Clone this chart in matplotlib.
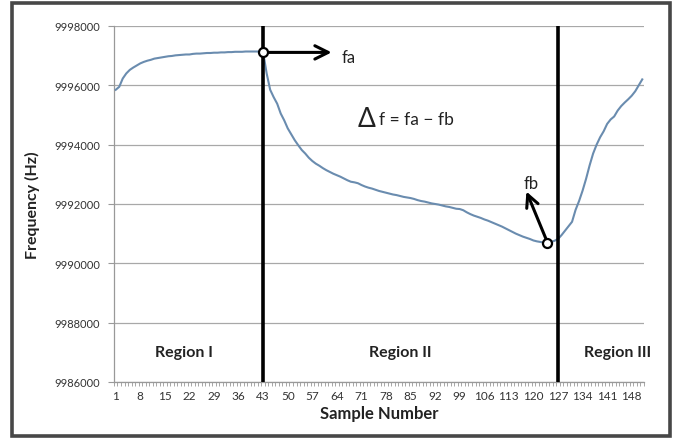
import matplotlib
matplotlib.use('Agg')
import matplotlib.pyplot as plt
from matplotlib.patches import Rectangle
from matplotlib.ticker import FixedLocator

plt.rcParams['font.family'] = ['Lato', 'DejaVu Sans']

# frequency readings, one per sample (Hz)
region1 = [9995850, 9995950, 9996230, 9996400, 9996520, 9996600, 9996670, 9996740,
           9996790, 9996830, 9996860, 9996900, 9996920, 9996940, 9996960, 9996980,
           9996990, 9997010, 9997020, 9997030, 9997040, 9997040, 9997060, 9997070,
           9997070, 9997080, 9997090, 9997090, 9997100, 9997100, 9997110, 9997110,
           9997120, 9997120, 9997130, 9997130, 9997130, 9997140, 9997140, 9997140,
           9997140, 9997140, 9997110]
region2 = [9996400, 9995850, 9995600, 9995380, 9995050, 9994820, 9994550, 9994350,
           9994150, 9993980, 9993820, 9993700, 9993560, 9993450, 9993360, 9993290,
           9993210, 9993140, 9993080, 9993020, 9992970, 9992920, 9992860, 9992800,
           9992750, 9992730, 9992700, 9992640, 9992590, 9992550, 9992520, 9992480,
           9992440, 9992410, 9992380, 9992350, 9992320, 9992300, 9992270, 9992240,
           9992220, 9992200, 9992170, 9992130, 9992100, 9992080, 9992050, 9992020,
           9992000, 9991980, 9991950, 9991920, 9991900, 9991870, 9991840, 9991830,
           9991790, 9991720, 9991660, 9991610, 9991570, 9991530, 9991480, 9991440,
           9991390, 9991340, 9991290, 9991240, 9991180, 9991120, 9991060, 9991000,
           9990950, 9990900, 9990860, 9990820, 9990770, 9990740, 9990720, 9990700,
           9990700, 9990720, 9990760]
region3 = [9990820, 9990950, 9991100, 9991250, 9991400, 9991800, 9992100, 9992450,
           9992850, 9993300, 9993700, 9994000, 9994250, 9994450, 9994700, 9994850,
           9994950, 9995150, 9995300, 9995420, 9995530, 9995650, 9995800, 9996000,
           9996200]

freq = region1 + region2 + region3
samples = list(range(1, len(freq) + 1))

region_names = ['Region I', 'Region II', 'Region III']
boundaries = [43, 127]
fa_sample = 43
fb_sample = 124

xtick_labels = list(range(1, 149, 7))
ytick_values = list(range(9986000, 9998001, 2000))

fig = plt.figure(figsize=(6.74, 4.39), dpi=100)
fig.patches.append(Rectangle((0.018, 0.005), 0.976, 0.986, transform=fig.transFigure,
                             fill=False, edgecolor='#474747', linewidth=2.6))
ax = fig.add_axes([0.1691, 0.1276, 0.7864, 0.8109])

ax.plot(samples, freq, color='#6a8caf', linewidth=1.5, zorder=3)

for b in boundaries:
    ax.axvline(b, color='black', linewidth=2.6, zorder=4)

fa = freq[fa_sample - 1]
fb = freq[fb_sample - 1]
ax.annotate('', xy=(62.5, fa), xytext=(fa_sample, fa),
            arrowprops=dict(arrowstyle='->', color='black', lw=2.2,
                            mutation_scale=24, shrinkA=0, shrinkB=0), zorder=5)
ax.annotate('', xy=(118.0, 9992420), xytext=(fb_sample, fb),
            arrowprops=dict(arrowstyle='->', color='black', lw=2.2,
                            mutation_scale=22, shrinkA=0, shrinkB=0), zorder=5)
ax.plot([fa_sample, fb_sample], [fa, fb], linestyle='none', marker='o', markersize=6.5,
        markerfacecolor='white', markeredgecolor='black', markeredgewidth=1.6, zorder=6)

ax.text(65.3, fa - 170, 'fa', fontsize=12, color='#222222', va='center')
ax.text(117.3, 9992700, 'fb', fontsize=12, color='#222222', va='center')
ax.text(69.8, 9994880, '\u0394', fontsize=19, color='#222222', va='center')
ax.text(76.0, 9994850, 'f = fa \u2212 fb', fontsize=12.5, color='#222222', va='center')

region_x = [20.5, 82, 144]
for name, x in zip(region_names, region_x):
    ax.text(x, 9987000, name, fontsize=11.5, fontweight='bold', color='#222222',
            ha='center', va='center')

ax.set_xlim(0.5, len(freq) + 0.5)
ax.set_ylim(9986000, 9998000)
ax.set_xticks(xtick_labels)
ax.set_xticklabels([str(v) for v in xtick_labels])
ax.xaxis.set_minor_locator(FixedLocator([s + 0.5 for s in range(0, len(freq) + 1)]))
ax.set_yticks(ytick_values)
ax.set_yticklabels([str(v) for v in ytick_values])

ax.tick_params(axis='x', which='major', length=0, pad=6, labelsize=8.5, labelcolor='#333333')
ax.tick_params(axis='x', which='minor', length=3, width=0.6, color='#999999', direction='out')
ax.tick_params(axis='y', which='major', length=4, width=0.8, color='#999999',
               pad=6, labelsize=8, labelcolor='#333333')

ax.grid(axis='y', color='#a8a8a8', linewidth=0.9)
ax.set_axisbelow(True)
for side in ['top', 'right']:
    ax.spines[side].set_visible(False)
for side in ['left', 'bottom']:
    ax.spines[side].set_color('#999999')
    ax.spines[side].set_linewidth(0.9)

ax.set_xlabel('Sample Number', fontsize=12, fontweight='bold', color='#222222', labelpad=3)
ax.set_ylabel('Frequency (Hz)', fontsize=11.5, fontweight='bold', color='#222222', labelpad=10)

fig.savefig('out.png', dpi=100)
